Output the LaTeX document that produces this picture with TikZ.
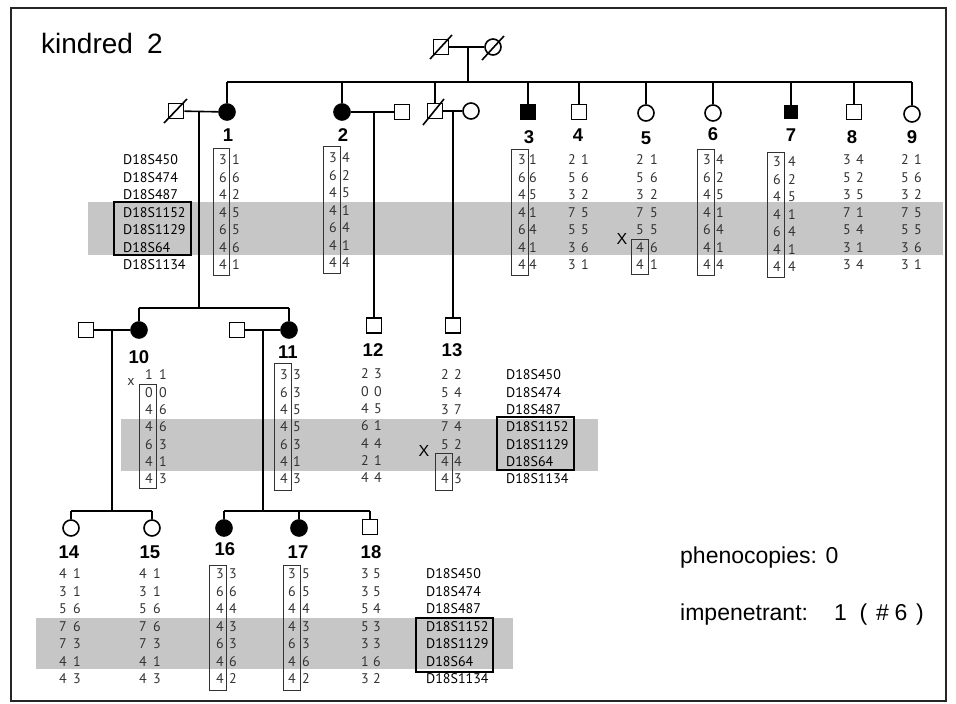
\documentclass[tikz,border=0pt]{standalone}
\usepackage{fontspec}
\setmainfont{Liberation Sans}
\newfontfamily\genofont{PT Sans}
\definecolor{bandgray}{HTML}{C6C6C6}
\definecolor{txtgray}{HTML}{333333}
\tikzset{
  pline/.style={line width=1.6pt, draw=black},
  osq/.style={draw=black, line width=1.6pt, rectangle, minimum size=15pt, inner sep=0pt, fill=white},
  fsq/.style={osq, fill=black},
  ocirc/.style={draw=black, line width=1.6pt, circle, minimum size=16pt, inner sep=0pt, fill=white},
  fcirc/.style={ocirc, fill=black},
  gt/.style={font=\genofont\fontsize{14}{14}\selectfont, inner sep=0pt, text=txtgray},
  mk/.style={font=\genofont\fontsize{14}{14}\selectfont, inner sep=0pt, anchor=west, text=black},
  lab/.style={font=\bfseries\fontsize{18.5}{18.5}\selectfont, inner sep=0pt},
  gbox/.style={draw=black!80, line width=1pt},
  mbox/.style={draw=black, line width=1.6pt},
  band/.style={fill=bandgray},
  big/.style={font=\fontsize{23}{23}\selectfont, inner sep=0pt, anchor=base west}
}
\newcommand\mkcol[4]{%
  \foreach \m [count=\k] in {D18S450,D18S474,D18S487,D18S1152,D18S1129,D18S64,D18S1134}
    \node[mk] (#1\k) at (#2,{#3+(\k-1)*#4}) {\m};}
\newcommand\gcol[6]{%
  \foreach \a/\b [count=\k] in {#6} {
    \node[gt] (#1a\k) at (#2,{#4+(\k-1)*#5}) {\a};
    \node[gt] (#1b\k) at (#3,{#4+(\k-1)*#5}) {\b};}}
\begin{document}
\begin{tikzpicture}[x=1pt,y=-1pt]
\useasboundingbox (0,0) rectangle (956,704);
\fill[white] (0,0) rectangle (956,704);
% bands
\fill[band] (88,202) rectangle (943,255);
\fill[band] (121,419) rectangle (598,471);
\fill[band] (36,618) rectangle (513,669);
% frame
\draw[draw=black!85, line width=1.3pt] (11,8) rectangle (946,701);
% title
\node[font=\fontsize{28}{28}\selectfont, inner sep=0pt, anchor=base west] (title) at (41,53) {kindred\hspace{0.5em}2};
% generation I
\node[osq] (f0) at (441,47) {};
\node[ocirc] (m0) at (493,47) {};
\draw[pline] (f0) ++(-11,12) -- ++(22,-24);
\draw[pline] (m0) ++(-11,13) -- ++(22,-24);
\draw[pline] (f0) -- (m0);
\coordinate (d0) at (468,47);
\coordinate (s0) at (468,82);
\coordinate (sibL0) at (227,82);
\coordinate (sibR0) at (912,82);
\draw[pline] (d0) -- (s0);
\draw[pline] (sibL0) -- (sibR0);
% generation II
\node[fcirc] (i1) at (227,112) {};
\node[fcirc] (i2) at (342,112) {};
\node[osq] (dz) at (435,111) {};
\node[fsq] (i3) at (528,112) {};
\node[osq] (i4) at (579,112) {};
\node[ocirc] (i5) at (646,113) {};
\node[ocirc] (i6) at (713,113) {};
\node[fsq, minimum size=12pt] (i7) at (791,112) {};
\node[osq] (i8) at (854,112) {};
\node[ocirc] (i9) at (912,114) {};
\foreach \n in {i1,i2,dz,i3,i4,i5,i6,i7,i8,i9}
  \draw[pline] (\n |- s0) -- (\n);
\draw[pline] (dz) ++(-12,14) -- ++(21,-26);
% spouses
\node[osq] (sp1) at (176,111) {};
\draw[pline] (sp1) ++(-12,12) -- ++(23,-24);
\node[osq] (sp2) at (402,112) {};
\node[ocirc] (spz) at (471,111) {};
\draw[pline] (sp1) -- (i1);
\draw[pline] (i2) -- (sp2);
\draw[pline] (dz) -- (spz);
\coordinate (c1) at (199,111);
\coordinate (c2) at (374,112);
\coordinate (cz) at (453,111);
% generation III
\node[fcirc] (i10) at (139,330) {};
\node[osq] (sp10) at (86,330) {};
\node[fcirc] (i11) at (289,330) {};
\node[osq] (sp11) at (237,330) {};
\node[osq] (i12) at (374,325.5) {};
\node[osq] (i13) at (453,325.5) {};
\coordinate (s1) at (199,308);
\draw[pline] (c1) -- (s1);
\draw[pline] (i10 |- s1) -- (i11 |- s1);
\draw[pline] (i10 |- s1) -- (i10);
\draw[pline] (i11 |- s1) -- (i11);
\draw[pline] (c2) -- (i12);
\draw[pline] (cz) -- (i13);
\draw[pline] (sp10) -- (i10);
\draw[pline] (sp11) -- (i11);
\coordinate (c10) at (112,330);
\coordinate (c11) at (263,330);
\coordinate (s10) at (112,511);
\coordinate (s11) at (263,511);
% generation IV
\node[ocirc] (i14) at (71,528) {};
\node[ocirc] (i15) at (152,528) {};
\node[fcirc] (i16) at (224,528) {};
\node[fcirc] (i17) at (299,528) {};
\node[osq] (i18) at (370,527) {};
\draw[pline] (c10) -- (s10);
\draw[pline] (c11) -- (s11);
\draw[pline] (i14 |- s10) -- (i15 |- s10);
\draw[pline] (i16 |- s11) -- (i18 |- s11);
\foreach \n in {i14,i15} \draw[pline] (\n |- s10) -- (\n);
\foreach \n in {i16,i17,i18} \draw[pline] (\n |- s11) -- (\n);
% labels
\node[lab] (l1) at (228,135) {1};
\node[lab] (l2) at (343,135) {2};
\node[lab] (l3) at (529,137) {3};
\node[lab] (l4) at (578,135) {4};
\node[lab] (l5) at (646,138) {5};
\node[lab] (l6) at (713,134) {6};
\node[lab] (l7) at (791,135) {7};
\node[lab] (l8) at (852,137) {8};
\node[lab] (l9) at (912,137) {9};
\node[lab] (l10) at (139,357) {10};
\node[lab] (l11) at (288,352) {11};
\node[lab] (l12) at (373,350) {12};
\node[lab] (l13) at (452,350) {13};
\node[lab] (l14) at (69,552) {14};
\node[lab] (l15) at (150,552) {15};
\node[lab] (l16) at (225,549) {16};
\node[lab] (l17) at (298,552) {17};
\node[lab] (l18) at (371,552) {18};
% markers
\mkcol{mkA}{123}{160}{17.5}
\mkcol{mkB}{506}{375}{17.33}
\mkcol{mkC}{426}{574}{17.5}
\draw[mbox] (114,202) rectangle (191,255);
\draw[mbox] (497,417) rectangle (574,470);
\draw[mbox] (416,618) rectangle (493,672);
% genotypes generation II
\gcol{g1}{223}{236}{160}{17.5}{3/1,6/6,4/2,4/5,6/5,4/6,4/1}
\gcol{g2}{333}{346}{158}{17.5}{3/4,6/2,4/5,4/1,6/4,4/1,4/4}
\gcol{g3}{522}{533}{160}{17.5}{3/1,6/6,4/5,4/1,6/4,4/1,4/4}
\gcol{g4}{572}{585}{160}{17.5}{2/1,5/6,3/2,7/5,5/5,3/6,3/1}
\gcol{g5}{640}{654}{160}{17.5}{2/1,5/6,3/2,7/5,5/5,4/6,4/1}
\gcol{g6}{707}{720}{160}{17.5}{3/4,6/2,4/5,4/1,6/4,4/1,4/4}
\gcol{g7}{777}{792}{162}{17.5}{3/4,6/2,4/5,4/1,6/4,4/1,4/4}
\gcol{g8}{847}{860}{160}{17.5}{3/4,5/2,3/5,7/1,5/4,3/1,3/4}
\gcol{g9}{905}{918}{160}{17.5}{2/1,5/6,3/2,7/5,5/5,3/6,3/1}
\draw[gbox] (213,148) rectangle (229.5,275);
\draw[gbox] (323,146) rectangle (340.5,273);
\draw[gbox] (511,149) rectangle (528,275);
\draw[gbox] (631,239) rectangle (648,274);
\draw[gbox] (697,149) rectangle (714.5,275);
\draw[gbox] (767,152) rectangle (784.5,277);
\node[font=\fontsize{16}{16}\selectfont, inner sep=0pt] (x5) at (622,239) {X};
% genotypes generation III
\gcol{g10}{149}{163}{375}{17.33}{1/1,0/0,4/6,4/6,6/3,4/1,4/3}
\gcol{g11}{284}{297}{375}{17.33}{3/3,6/3,4/5,4/5,6/3,4/1,4/3}
\gcol{g12}{365}{378}{374}{17.33}{2/3,0/0,4/5,6/1,4/4,2/1,4/4}
\gcol{g13}{445}{458}{375}{17.33}{2/2,5/4,3/7,7/4,5/2,4/4,4/3}
\draw[gbox] (139,384) rectangle (156,488);
\draw[gbox] (274,363) rectangle (291,490);
\draw[gbox] (435,453) rectangle (452.5,490);
\node[gt] (x10) at (131,382) {x};
\node[font=\fontsize{16}{16}\selectfont, inner sep=0pt] (x13) at (424,451) {X};
% genotypes generation IV
\gcol{g14}{63}{77}{574}{17.5}{4/1,3/1,5/6,7/6,7/3,4/1,4/3}
\gcol{g15}{143}{157}{574}{17.5}{4/1,3/1,5/6,7/6,7/3,4/1,4/3}
\gcol{g16}{220}{233}{574}{17.5}{3/3,6/6,4/4,4/3,6/3,4/6,4/2}
\gcol{g17}{292}{306}{574}{17.5}{3/5,6/5,4/4,4/3,6/3,4/6,4/2}
\gcol{g18}{365}{377}{574}{17.5}{3/5,3/5,5/4,5/3,3/3,1/6,3/2}
\draw[gbox] (209,565) rectangle (226,690);
\draw[gbox] (283,565) rectangle (300,690);
% notes
\node[big] (ph) at (680,563) {phenocopies: 0};
\node[big] (im) at (680,620) {impenetrant:};
\node[big, anchor=base] (im1) at (840.5,620) {1};
\node[big, anchor=base] (im2) at (863.5,620) {(};
\node[big, anchor=base] (im3) at (882.5,620) {\#};
\node[big, anchor=base] (im4) at (901,620) {6};
\node[big, anchor=base] (im5) at (920,620) {)};
\end{tikzpicture}
\end{document}
